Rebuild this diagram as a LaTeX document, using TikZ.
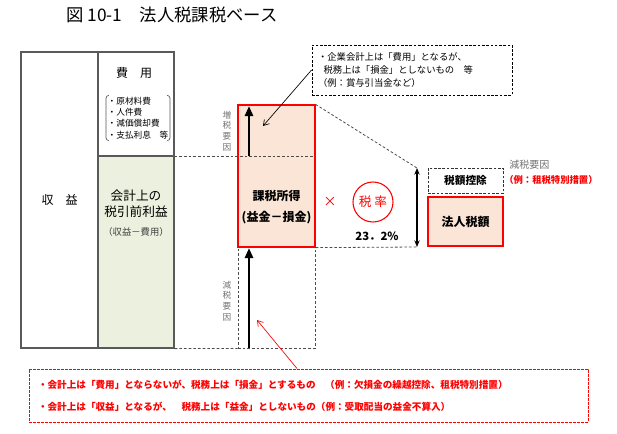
\documentclass[tikz,border=0pt]{standalone}
\usepackage{fontspec}
\setmainfont{Noto Sans CJK JP}
\usepackage{xcolor}
\usetikzlibrary{arrows.meta, positioning}

\definecolor{peach}{RGB}{251,229,214}
\definecolor{palegreen}{RGB}{235,241,222}
\definecolor{framegray}{RGB}{89,89,89}
\definecolor{taxred}{RGB}{255,0,0}

\begin{document}
\begin{tikzpicture}[x=0.75pt, y=-0.75pt,
    cell/.style={draw=framegray, line width=0.9pt, inner sep=0pt},
    taxbox/.style={draw=taxred, line width=0.9pt, fill=peach, inner sep=0pt},
    dashbox/.style={draw=black!80, dash pattern=on 2pt off 1.2pt, line width=0.7pt, inner sep=0pt},
    guide/.style={draw=black!70, dash pattern=on 2pt off 1.5pt, line width=0.6pt},
    rise/.style={-{Triangle[length=7.5pt, width=6pt]}, line width=1.9pt},
    thinarrow/.style={-{Straight Barb[length=4pt, width=5pt]}, line width=0.5pt},
    vlabel/.style={font=\fontsize{6.5}{8}\selectfont, text=black!55, align=center, inner sep=0pt},
    small/.style={font=\fontsize{7}{9}\selectfont}
]
    \useasboundingbox (0,0) rectangle (617,433);

    % Title
    \node[font=\fontsize{13}{15}\selectfont] (title) at (172,15) {図 10-1　法人税課税ベース};

    % Accounting table
    \node[cell, minimum width=57.75pt, minimum height=222pt, font=\fontsize{9}{11}\selectfont] (revenue) at (59.5,200) {収　益};
    \node[cell, minimum width=57pt, minimum height=78pt] (cost) at (136,104) {};
    \node[cell, fill=palegreen, minimum width=57pt, minimum height=144pt] (profit) at (136,252) {};

    \node[font=\fontsize{9}{11}\selectfont] (costtitle) at (134,73) {費　用};
    \node[font=\fontsize{6.5}{8.5}\selectfont, align=left, inner sep=1pt] (costlist) at (138,118) {・原材料費\\・人件費\\・減価償却費\\・支払利息　等};
    \draw[framegray, line width=0.5pt, rounded corners=2pt]
        ([xshift=2pt]costlist.north west) -- (costlist.north west) -- (costlist.south west) -- ([xshift=2pt]costlist.south west);
    \draw[framegray, line width=0.5pt, rounded corners=2pt]
        ([xshift=-2pt]costlist.north east) -- (costlist.north east) -- (costlist.south east) -- ([xshift=-2pt]costlist.south east);

    \node[font=\fontsize{9.5}{12}\selectfont, align=center] (profittext) at (136,204) {会計上の\\税引前利益};
    \node[font=\fontsize{7}{9}\selectfont, text=black!75] (profitcalc) at (136,232) {（収益－費用）};

    % Taxable income
    \node[guide, minimum width=57.75pt, minimum height=75.75pt, inner sep=0pt] (reduction) at (276.5,297.5) {};
    \node[taxbox, minimum width=57.75pt, minimum height=106.5pt] (taxable) at (276.5,176) {};
    \node[font=\bfseries\fontsize{9}{15.75}\selectfont, align=center] (taxabletext) at (276.5,207.5) {課税所得\\(益金－損金)};

    \draw[guide] (cost.south east) -- (cost.south east -| taxable.east);
    \draw[guide] (profit.south east) -- (reduction.south west);

    \coordinate (risefoot) at (249,156);
    \coordinate (risetop)  at (249,106);
    \coordinate (dropfoot) at (249,348);
    \coordinate (droptop)  at (249,248);
    \draw[rise] (risefoot) -- (risetop);
    \draw[rise] (dropfoot) -- (droptop);

    \node[vlabel] (risetext) at (227,131) {増\\税\\要\\因};
    \node[vlabel] (droptext) at (227,301) {減\\税\\要\\因};

    % Note on expenses not deductible
    \node[dashbox, draw=black, minimum height=37.5pt, text width=141pt, inner xsep=4.5pt, align=left,
          font=\fontsize{7}{10}\selectfont] (expnote) at (412,70)
        {・企業会計上は「費用」となるが、\\\hspace{0.6em}税務上は「損金」としないもの　等\\（例：賞与引当金など）};
    \coordinate (risein) at (263,126);
    \draw[thinarrow] (expnote.west) -- (risein);

    % Tax rate
    \coordinate (ratetop) at (417,168);
    \coordinate (ratebot) at (417,247);
    \draw[guide] (taxable.north east) -- (ratetop);
    \draw[guide] (taxable.south east) -- (ratebot);
    \draw[{Stealth[length=5pt, width=4pt]}-{Stealth[length=5pt, width=4pt]}, line width=0.8pt] (ratetop) -- (ratebot);

    \node[text=taxred, font=\fontsize{10}{12}\selectfont] (times) at (330,202) {×};
    \node[circle, draw=taxred, line width=0.8pt, minimum size=30pt, inner sep=0pt, text=taxred,
          font=\fontsize{9.5}{11}\selectfont] (rate) at (373,202) {税 率};
    \node[font=\bfseries\fontsize{8.5}{10}\selectfont] (ratevalue) at (377,236) {23．2\%};

    % Corporate tax
    \node[dashbox, minimum width=56.25pt, minimum height=18.75pt, font=\bfseries\fontsize{8}{10}\selectfont] (credit) at (465.5,180.5) {税額控除};
    \node[taxbox, minimum width=56.25pt, minimum height=36.75pt, font=\bfseries\fontsize{9}{11}\selectfont] (corptax) at (465.5,221.5) {法人税額};
    \node[anchor=west, inner sep=0pt, text=black!55, font=\fontsize{7.5}{9}\selectfont] (credittext) at (509,165) {減税要因};
    \node[anchor=west, inner sep=0pt, text=taxred, font=\bfseries\fontsize{7}{9}\selectfont] (creditex) at (504,180) {（例：租税特別措置）};

    % Note on deductions
    \node[draw=taxred, dash pattern=on 2pt off 1pt, line width=0.7pt, minimum height=39.75pt, text width=405.75pt,
          inner xsep=6.75pt, align=left, text=taxred, font=\bfseries\fontsize{7.2}{16.5}\selectfont] (lownote) at (308.5,395.5)
        {・会計上は「費用」とならないが、税務上は「損金」とするもの　（例：欠損金の繰越控除、租税特別措置）\\
         ・会計上は「収益」となるが、　税務上は「益金」としないもの（例：受取配当の益金不算入）};
    \coordinate (dropin) at (257,320);
    \draw[thinarrow, taxred] ([xshift=-8.6pt]lownote.north) -- (dropin);
\end{tikzpicture}
\end{document}
